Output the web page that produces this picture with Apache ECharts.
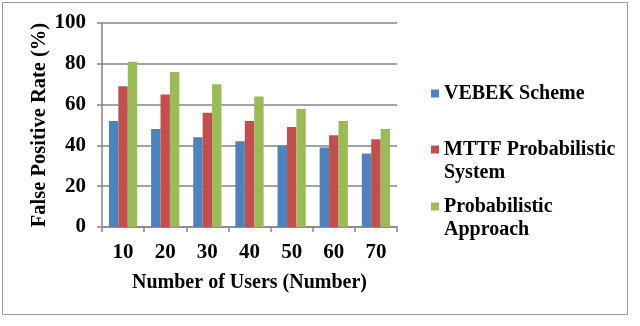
<!DOCTYPE html>
<html>
<head>
<meta charset="utf-8">
<script src="https://cdn.jsdelivr.net/npm/echarts@6/dist/echarts.min.js"></script>
<style>
  html, body { margin: 0; padding: 0; background: #fff; }
  #chart { width: 640px; height: 326px; }
</style>
</head>
<body>
<div id="chart"></div>
<script>
// data
const users = ['10', '20', '30', '40', '50', '60', '70']
const vebek = [52, 48, 44, 42, 40, 39, 36]
const mttf = [69, 65, 56, 52, 49, 45, 43]
const probabilistic = [81, 76, 70, 64, 58, 52, 48]
const seriesNames = ['VEBEK Scheme', 'MTTF Probabilistic\nSystem', 'Probabilistic\nApproach']
const colors = ['#4F81BD', '#C0504D', '#9BBB59']

const font = '"Liberation Serif", "Times New Roman", serif'
const axisColor = '#868686'

// square sitting at the top of a taller box, so the marker lines up with the first text line
const topSquare = 'path://M0,0h8v8h-8z M0,31L0.01,31'

const legendText = {
  fontFamily: font,
  fontWeight: 'bold',
  fontSize: 20,
  color: '#000',
  lineHeight: 23
}

const option = {
  animation: false,
  color: colors,
  grid: {
    left: 102,
    right: 243,
    top: 23,
    bottom: 99
  },
  graphic: [{
    type: 'rect',
    shape: { x: 2.5, y: 2.5, width: 625, height: 312 },
    style: { fill: 'none', stroke: '#9a9a9a', lineWidth: 1 }
  }],
  legend: seriesNames.map((name, i) => ({
    data: [name],
    left: 426,
    top: [77, 133, 190][i],
    itemWidth: 8,
    itemHeight: i === 0 ? 8 : 31,
    itemGap: 0,
    icon: i === 0 ? 'rect' : topSquare,
    textStyle: legendText
  })),
  xAxis: {
    type: 'category',
    data: users,
    name: 'Number of Users (Number)',
    nameLocation: 'middle',
    nameGap: 46,
    nameTextStyle: { fontFamily: font, fontWeight: 'bold', fontSize: 20, color: '#000' },
    axisLine: { lineStyle: { color: axisColor, width: 1.5 } },
    axisTick: { show: true, length: 5, lineStyle: { color: axisColor, width: 1.5 } },
    axisLabel: { margin: 15, fontFamily: font, fontWeight: 'bold', fontSize: 21, color: '#000' }
  },
  yAxis: {
    type: 'value',
    min: 0,
    max: 100,
    interval: 20,
    name: 'False Positive Rate (%)',
    nameLocation: 'middle',
    nameGap: 51,
    nameTextStyle: { fontFamily: font, fontWeight: 'bold', fontSize: 20.5, color: '#000' },
    axisLine: { show: true, lineStyle: { color: axisColor, width: 1.5 } },
    axisTick: { show: true, length: 5, lineStyle: { color: axisColor, width: 1.5 } },
    axisLabel: { margin: 16, fontFamily: font, fontWeight: 'bold', fontSize: 21, color: '#000' },
    splitLine: { lineStyle: { color: axisColor, width: 1.5 } }
  },
  series: [vebek, mttf, probabilistic].map((data, i) => ({
    name: seriesNames[i],
    type: 'bar',
    data,
    barGap: '0%',
    barCategoryGap: '33%'
  }))
}

const myChart = echarts.init(document.getElementById('chart'))
myChart.setOption(option)
</script>
</body>
</html>
